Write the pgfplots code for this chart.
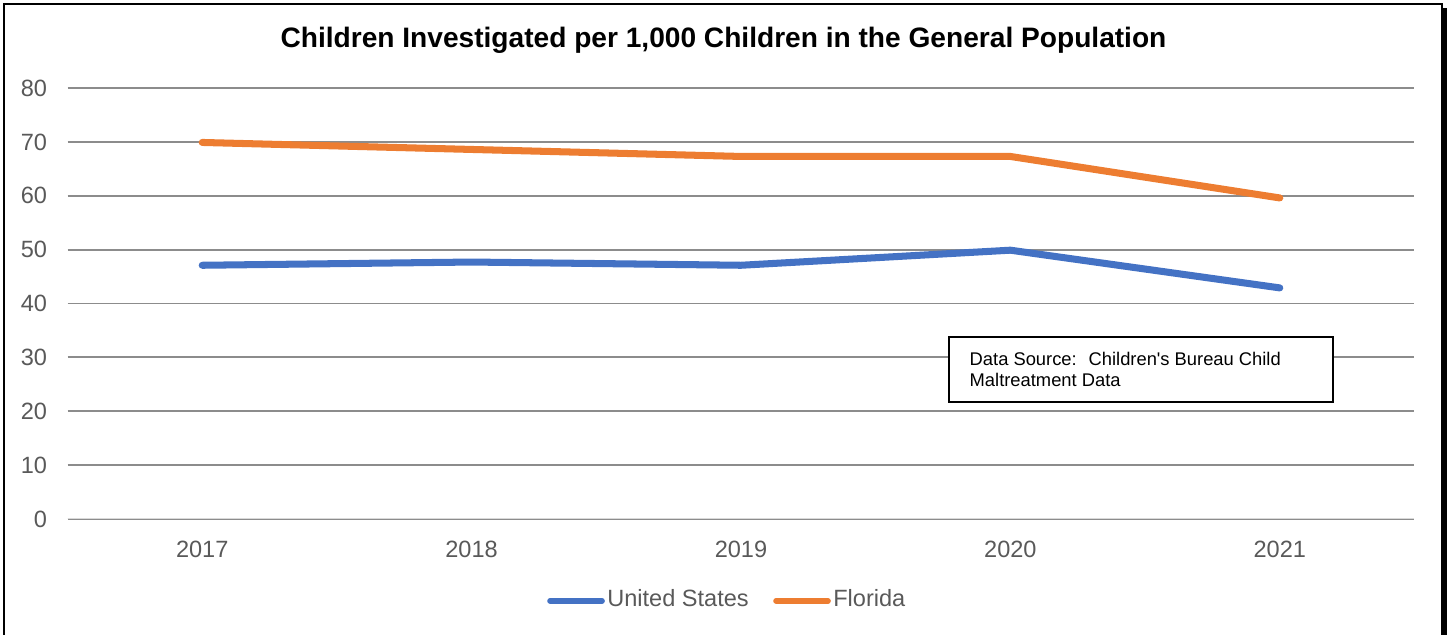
\documentclass[border=0pt]{standalone}
\usepackage{pgfplots}
\pgfplotsset{compat=1.18}
\usepackage{fontspec}
\setmainfont{Liberation Sans}

\definecolor{usblue}{HTML}{4472C4}
\definecolor{flor}{HTML}{ED7D31}
\definecolor{tickgray}{HTML}{595959}
\definecolor{gridgray}{HTML}{8C8C8C}
\definecolor{zerogray}{HTML}{D9D9D9}

\begin{document}
\begin{tikzpicture}
\useasboundingbox (0,0) rectangle (14.51,6.35);
\clip (0,0) rectangle (14.51,6.35);

% outer frame with shadow on the right
\draw[line width=0.2mm] (0.045,-0.5) -- (0.045,6.31) -- (14.42,6.31) -- (14.42,-0.5);
\fill (14.41,-0.5) rectangle (14.47,6.27);

\begin{axis}[
    at={(0.675cm,1.16cm)}, anchor=south west,
    scale only axis,
    width=13.47cm, height=4.31cm,
    xmin=-0.5, xmax=4.5,
    ymin=0, ymax=80,
    xtick={0,1,2,3,4},
    xticklabels={2017,2018,2019,2020,2021},
    ytick={0,10,...,80},
    axis line style={draw=none},
    major tick length=0pt,
    ymajorgrids,
    grid style={gridgray, line width=0.55pt},
    tick label style={font=\fontsize{6.7}{8}\selectfont, text=tickgray},
    /pgf/number format/assume math mode=true,
    xticklabel style={yshift=-1.0mm},
    yticklabel style={xshift=-0.8mm},
    title={Children Investigated per 1,000 Children in the General Population},
    every axis title shift=0pt,
    title style={at={(0.487,1.111)}, anchor=center, font=\bfseries\fontsize{8.0}{10}\selectfont},
    legend columns=2,
    legend style={at={(0.49,-0.19)}, anchor=center, draw=none, fill=none,
        font=\fontsize{6.7}{8}\selectfont, text=tickgray,
        nodes={inner xsep=0.25mm},
        /tikz/every even column/.append style={column sep=2.2mm}},
    legend image code/.code={\draw[#1, line width=1.6pt, line cap=round] (0mm,0mm) -- (5.2mm,0mm);},
    legend cell align=left,
]
\draw[zerogray, line width=0.55pt] (axis cs:-0.5,0) -- (axis cs:4.5,0);
\addplot[usblue, line width=2pt, line cap=round, line join=round] coordinates {
    (0,47.1) (1,47.7) (2,47.1) (3,49.9) (4,42.9)
};
\addplot[flor, line width=2pt, line cap=round, line join=round] coordinates {
    (0,69.9) (1,68.6) (2,67.3) (3,67.3) (4,59.6)
};
\legend{United States,Florida}
\end{axis}

% data source box
\draw[line width=0.2mm, fill=white] (9.49,2.33) rectangle (13.33,2.98);
\node[anchor=base west, inner sep=0pt, font=\fontsize{5.22}{6}\selectfont] at (9.69,2.69) {Data Source:~ Children\textquotesingle s Bureau Child};
\node[anchor=base west, inner sep=0pt, font=\fontsize{5.22}{6}\selectfont] at (9.69,2.48) {Maltreatment Data};
\end{tikzpicture}
\end{document}
